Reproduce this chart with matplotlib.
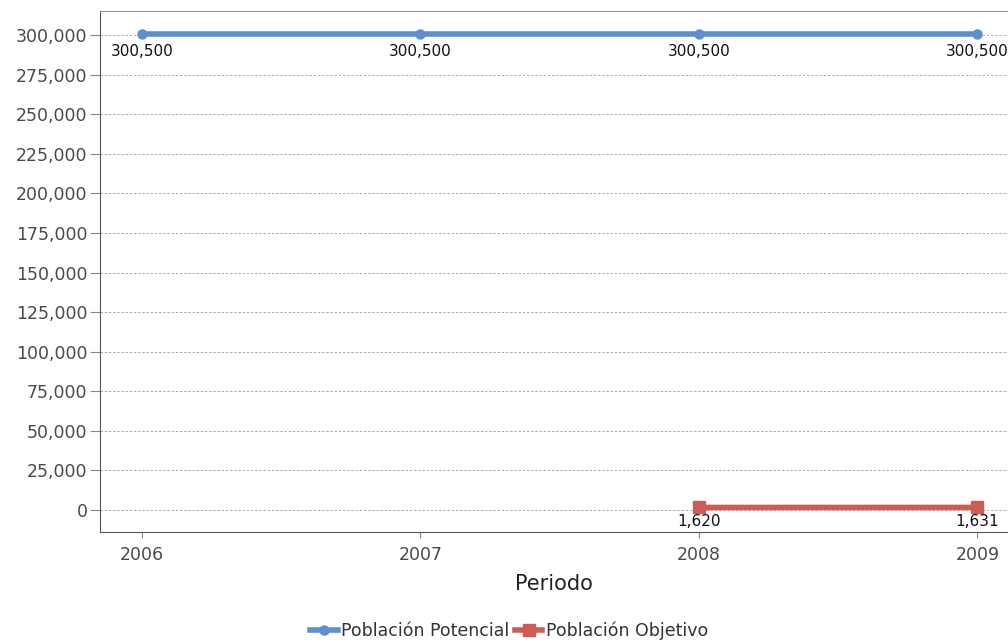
import matplotlib.pyplot as plt
from matplotlib.ticker import FuncFormatter

years = [2006, 2007, 2008, 2009]
potencial = [300500, 300500, 300500, 300500]
objetivo_years = [2008, 2009]
objetivo = [1620, 1631]

blue = "#5b8fd0"
red = "#cd5c56"

fig = plt.figure(figsize=(10.08, 6.43), dpi=100)
ax = fig.add_axes([0.0992, 0.1726, 0.9008, 0.8103])

ax.plot(years, potencial, color=blue, lw=4, marker="o", ms=6.5,
        label="Población Potencial", zorder=3)
ax.plot(objetivo_years, objetivo, color=red, lw=4, marker="s", ms=9,
        label="Población Objetivo", zorder=3)

for x, y in zip(years, potencial):
    ax.annotate(f"{y:,}", (x, y), xytext=(0, -7), textcoords="offset points",
                ha="center", va="top", fontsize=11, color="#111111")
for x, y in zip(objetivo_years, objetivo):
    ax.annotate(f"{y:,}", (x, y), xytext=(0, -5), textcoords="offset points",
                ha="center", va="top", fontsize=11, color="#111111")

ax.set_xlim(2005.85, 2009.11)
ax.set_ylim(-13900, 315200)
ax.set_xticks(years)
ax.set_yticks(range(0, 300001, 25000))
ax.yaxis.set_major_formatter(FuncFormatter(lambda v, p: f"{int(v):,}"))
ax.grid(axis="y", color="#aaaaaa", ls=(0, (2.5, 1.8)), lw=0.7)
ax.tick_params(axis="y", length=7, color="#888888", labelsize=12.5,
               labelcolor="#4a4a4a", pad=2)
ax.tick_params(axis="x", length=4, color="#888888", labelsize=12.5,
               labelcolor="#4a4a4a", pad=6)

for s in ["left", "bottom"]:
    ax.spines[s].set_color("#555555")
ax.spines["top"].set_color("#999999")
ax.spines["right"].set_visible(False)

ax.set_xlabel("Periodo", fontsize=15, color="#222222", labelpad=7)

fig.legend(loc="lower center", bbox_to_anchor=(0.505, -0.02), ncol=2, frameon=False,
           fontsize=12.5, handlelength=1.6, handletextpad=0.2, columnspacing=0.3,
           labelcolor="#333333")

plt.savefig("out.png")
